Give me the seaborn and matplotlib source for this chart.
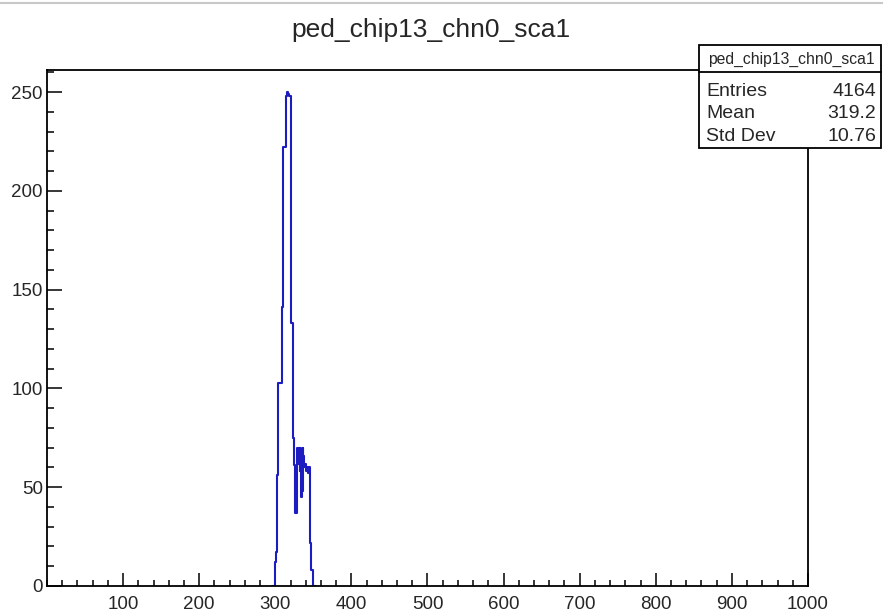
import matplotlib
matplotlib.use('Agg')
import matplotlib.pyplot as plt
from matplotlib.patches import Rectangle
from matplotlib.lines import Line2D
from matplotlib.ticker import MultipleLocator
import seaborn as sns
import numpy as np
import pandas as pd

bin_inicio = list(range(300, 349))
contagens = [12, 17, 56, 56, 103, 103, 103, 103, 103, 141,
             222, 222, 222, 222, 248, 248, 250, 249, 248, 248,
             133, 133, 133, 75, 61, 61, 37, 37, 37, 70,
             62, 70, 58, 70, 45, 48, 70, 66, 60, 62,
             58, 60, 60, 57, 60, 22, 22, 8, 8]

titulo = 'ped_chip13_chn0_sca1'
stats_nomes = ['Entries', 'Mean', 'Std Dev']
stats_valores = ['4164', '319.2', '10.76']

df = pd.DataFrame({'adc': np.array(bin_inicio) + 0.5, 'n': contagens})

sns.set_style('ticks')
plt.rcParams['font.family'] = ['Liberation Sans', 'DejaVu Sans']

fig = plt.figure(figsize=(8.83, 6.12), dpi=100)
ax = fig.add_axes([47/883, 1-586/612, (808-47)/883, (586-70)/612])

sns.histplot(data=df, x='adc', weights='n', binwidth=1, binrange=(296, 354),
             element='step', fill=False, color='#1c1cc0', linewidth=1.5, ax=ax)

ax.set_xlim(0, 1000)
ax.set_ylim(0, 261.2)
ax.set_xlabel('')
ax.set_ylabel('')
ax.xaxis.set_major_locator(MultipleLocator(100))
ax.xaxis.set_minor_locator(MultipleLocator(20))
ax.yaxis.set_major_locator(MultipleLocator(50))
ax.yaxis.set_minor_locator(MultipleLocator(10))
ax.set_xticks(range(100, 1001, 100))
ax.tick_params(which='both', direction='in', color='black', width=1.1)
ax.tick_params(axis='x', which='major', length=9.5, pad=7, labelsize=13.5)
ax.tick_params(axis='x', which='minor', length=4.5)
ax.tick_params(axis='y', which='major', length=10.5, pad=3, labelsize=13.5)
ax.tick_params(axis='y', which='minor', length=5)
for s in ax.spines.values():
    s.set_visible(True)
    s.set_linewidth(1.3)
    s.set_color('black')

fig.text(431/883, 1-30/612, titulo, ha='center', va='center', fontsize=19)

# caixa de estatisticas
fig.add_artist(Rectangle((699/883, 1-148/612), 182/883, 103/612, transform=fig.transFigure,
                         facecolor='white', edgecolor='black', linewidth=1.3, zorder=5))
fig.add_artist(Line2D([699/883, 881/883], [1-72/612, 1-72/612], transform=fig.transFigure,
                      color='black', linewidth=1.3, zorder=6))
fig.text(791/883, 1-59/612, titulo, ha='center', va='center', fontsize=11.3, zorder=7)
for i, (nome, valor) in enumerate(zip(stats_nomes, stats_valores)):
    yb = 1 - (96 + 22.5*i)/612
    fig.text(706/883, yb, nome, ha='left', va='baseline', fontsize=14, zorder=7)
    fig.text(876/883, yb, valor, ha='right', va='baseline', fontsize=14, zorder=7)

fig.add_artist(Line2D([0, 1], [1-3/612, 1-3/612], transform=fig.transFigure,
                      color='#c8c8c8', linewidth=1.5))

fig.savefig('out.png', dpi=100)
